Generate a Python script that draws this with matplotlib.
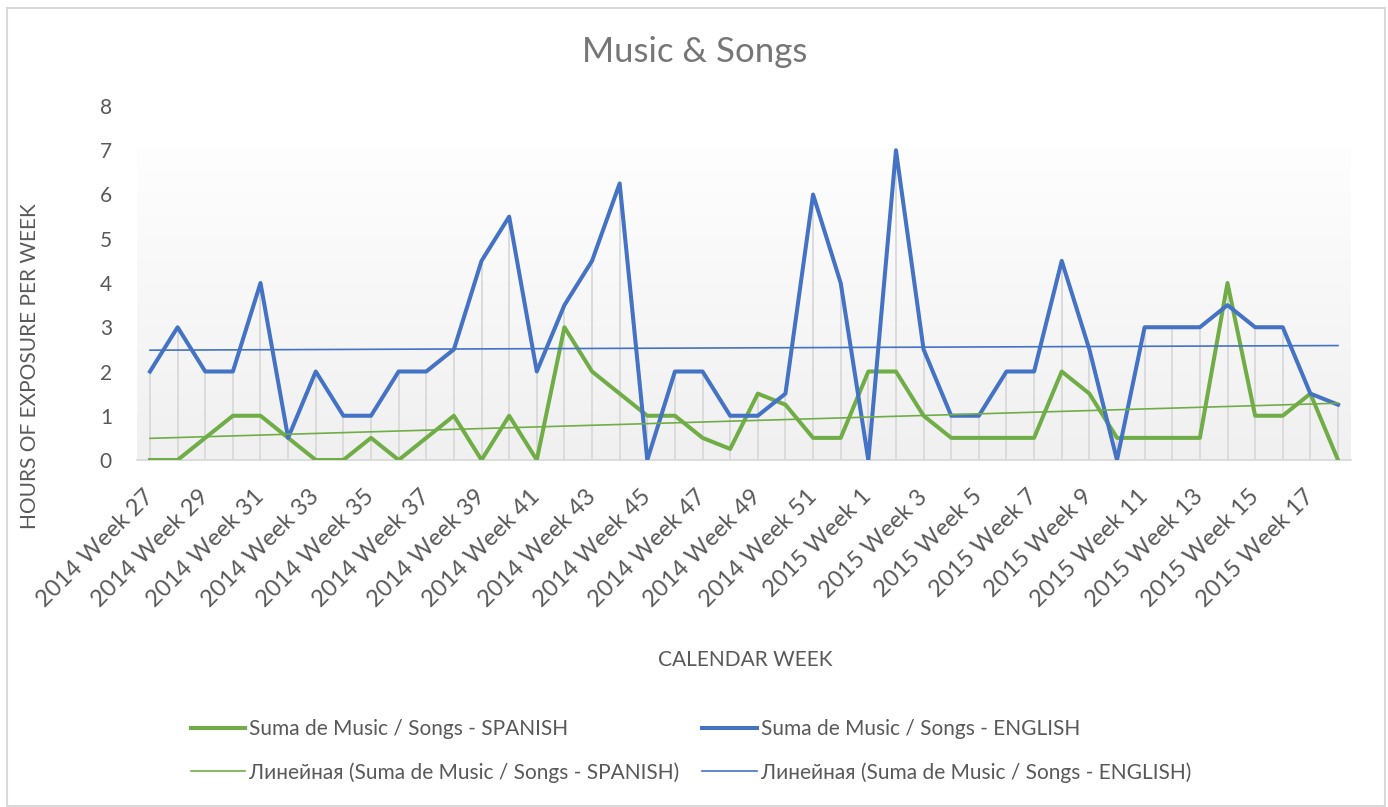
import numpy as np
import matplotlib
matplotlib.use('Agg')
import matplotlib.pyplot as plt
from matplotlib.colors import LinearSegmentedColormap
from matplotlib.lines import Line2D
from matplotlib.patches import Rectangle

# --- DATOS ---
semanas = ["2014 Week 27", "2014 Week 28", "2014 Week 29", "2014 Week 30", "2014 Week 31",
           "2014 Week 32", "2014 Week 33", "2014 Week 34", "2014 Week 35", "2014 Week 36",
           "2014 Week 37", "2014 Week 38", "2014 Week 39", "2014 Week 40", "2014 Week 41",
           "2014 Week 42", "2014 Week 43", "2014 Week 44", "2014 Week 45", "2014 Week 46",
           "2014 Week 47", "2014 Week 48", "2014 Week 49", "2014 Week 50", "2014 Week 51",
           "2014 Week 52", "2015 Week 1", "2015 Week 2", "2015 Week 3", "2015 Week 4",
           "2015 Week 5", "2015 Week 6", "2015 Week 7", "2015 Week 8", "2015 Week 9",
           "2015 Week 10", "2015 Week 11", "2015 Week 12", "2015 Week 13", "2015 Week 14",
           "2015 Week 15", "2015 Week 16", "2015 Week 17", "2015 Week 18"]

spanish = [0, 0, 0.5, 1, 1, 0.5, 0, 0, 0.5, 0, 0.5, 1, 0, 1, 0,
           3, 2, 1.5, 1, 1, 0.5, 0.25, 1.5, 1.25, 0.5, 0.5, 2, 2, 1,
           0.5, 0.5, 0.5, 0.5, 2, 1.5, 0.5, 0.5, 0.5, 0.5, 4, 1, 1, 1.5, 0]

english = [2, 3, 2, 2, 4, 0.5, 2, 1, 1, 2, 2, 2.5, 4.5, 5.5, 2,
           3.5, 4.5, 6.25, 0, 2, 2, 1, 1, 1.5, 6, 4, 0, 7, 2.5,
           1, 1, 2, 2, 4.5, 2.5, 0, 3, 3, 3, 3.5, 3, 3, 1.5, 1.25]

VERDE = '#70AD47'
AZUL = '#4472C4'
GRIS_TEXTO = '#595959'

plt.rcParams['font.family'] = ['Lato', 'DejaVu Sans']

W, H = 1388, 807
fig = plt.figure(figsize=(W / 100, H / 100), dpi=100)

# Borde del área del gráfico
fig.patches.append(Rectangle((7 / W, 1 / H), 1378 / W, (H - 9) / H, transform=fig.transFigure,
                             fill=False, edgecolor='#d9d9d9', linewidth=1.5))

ax = fig.add_axes([137 / W, (H - 460) / H, (1351 - 137) / W, (460 - 106) / H])
x = np.arange(len(semanas))

# Fondo degradado del área de trazado
grad = LinearSegmentedColormap.from_list('fondo', ['#f0f0f0', '#fefefe'])
ax.imshow(np.linspace(0, 1, 256).reshape(-1, 1), cmap=grad, origin='lower', aspect='auto',
          extent=(-0.47, 43.47, 0, 7.05), zorder=0)

# Líneas de caída
tope = np.maximum(spanish, english)
ax.vlines(x, 0, tope, color='#d9d9d9', linewidth=1.3, zorder=1)

ax.plot(x, spanish, color=VERDE, linewidth=2.9, zorder=3, solid_joinstyle='round')
ax.plot(x, english, color=AZUL, linewidth=2.9, zorder=3, solid_joinstyle='round')

# Líneas de tendencia
for serie, color in [(spanish, VERDE), (english, AZUL)]:
    m, b = np.polyfit(x, serie, 1)
    ax.plot(x, m * x + b, color=color, linewidth=1.2, zorder=4)

ax.set_xlim(-0.47, 43.47)
ax.set_ylim(0, 8)
ax.set_yticks(range(9))
ax.set_xticks(x[::2])
ax.set_xticklabels(semanas[::2], rotation=45, ha='right', va='center', rotation_mode='anchor',
                   fontsize=17)
ax.tick_params(axis='both', length=0, colors=GRIS_TEXTO)
ax.tick_params(axis='y', pad=18, labelsize=15)
ax.tick_params(axis='x', pad=24)
for lado in ['top', 'left', 'right']:
    ax.spines[lado].set_visible(False)
ax.spines['bottom'].set_color('#d9d9d9')
ax.spines['bottom'].set_linewidth(1.3)
ax.patch.set_alpha(0)

fig.text(695 / W, 1 - 52 / H, 'Music & Songs', ha='center', va='center', fontsize=25, color='#767676')
fig.text(30 / W, 1 - 366 / H, 'HOURS OF EXPOSURE PER WEEK', rotation=90, ha='center', va='center',
         fontsize=15, color=GRIS_TEXTO)
fig.text(745 / W, 1 - 660 / H, 'CALENDAR WEEK', ha='center', va='center', fontsize=15, color=GRIS_TEXTO)

handles = [Line2D([], [], color=VERDE, linewidth=2.9),
           Line2D([], [], color=VERDE, linewidth=1.2),
           Line2D([], [], color=AZUL, linewidth=2.9),
           Line2D([], [], color=AZUL, linewidth=1.2)]
labels = ['Suma de Music / Songs - SPANISH',
          'Линейная (Suma de Music / Songs - SPANISH)',
          'Suma de Music / Songs - ENGLISH',
          'Линейная (Suma de Music / Songs - ENGLISH)']
fig.legend(handles, labels, ncol=2, loc='center', bbox_to_anchor=(691 / W, 1 - 751 / H),
           frameon=False, fontsize=15, labelcolor=GRIS_TEXTO, handlelength=2.6,
           handletextpad=0.2, columnspacing=1.1, labelspacing=1.1)

fig.savefig('out.png', dpi=100)
